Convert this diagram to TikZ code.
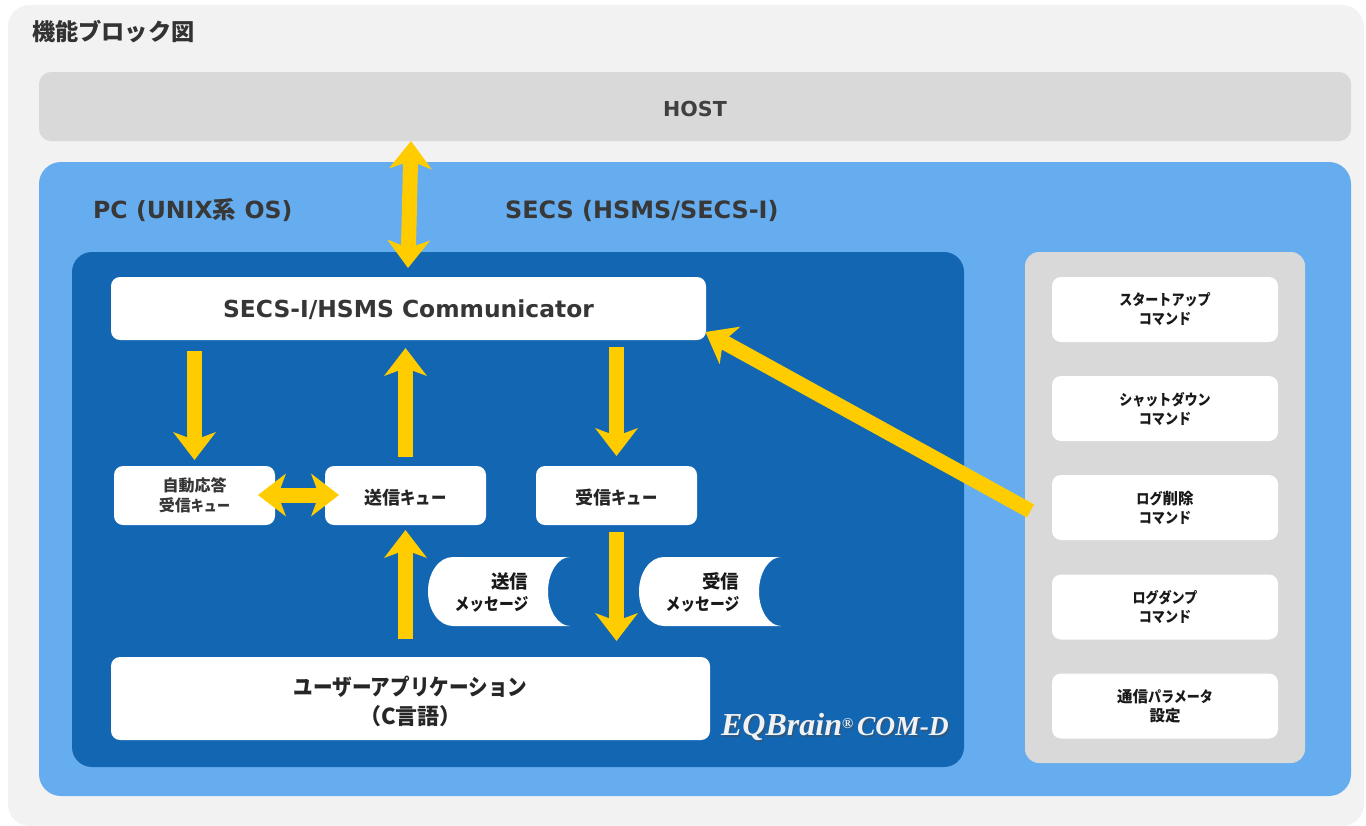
\documentclass[tikz,border=0pt]{standalone}
\usepackage{fontspec}
\setmainfont{DejaVu Sans}
\newfontfamily\cjk{Noto Sans CJK JP}
\newfontfamily\cjkn[FakeStretch=0.87]{Noto Sans CJK JP}
\newfontfamily\logofont{Liberation Serif}
\usetikzlibrary{arrows.meta,calc}
\definecolor{pagegrey}{HTML}{F2F2F2}
\definecolor{panelgrey}{HTML}{D9D9D9}
\definecolor{lightblue}{HTML}{66ADF0}
\definecolor{darkblue}{HTML}{1366B1}
\definecolor{arrowyellow}{HTML}{FFCC00}
\definecolor{inktext}{HTML}{404040}
\newcommand{\kj}[2]{{\cjk\bfseries\fontsize{#1}{0}\selectfont #2}}
\tikzset{
  whitebox/.style={fill=white,rounded corners=9pt,draw=none,inner sep=0pt,align=center,font=\cjk\bfseries,text=black!85},
  cmdbox/.style={whitebox,minimum width=226pt,minimum height=65pt,font=\cjkn\bfseries\fontsize{15}{19}\selectfont,text=black!90},
  queue/.style={whitebox,minimum width=161pt,minimum height=59pt,font=\cjkn\bfseries\fontsize{17.6}{19.5}\selectfont},
  ytip/.tip={Stealth[length=28pt,width=43pt,inset=8pt,line width=0pt,fill=arrowyellow]},
  flow/.style={draw=arrowyellow,line width=15pt,-ytip},
  flowboth/.style={draw=arrowyellow,line width=15pt,ytip-ytip},
  headtext/.style={inner sep=0pt,font=\bfseries\fontsize{23.9}{27}\selectfont,text=black!78},
  msgtext/.style={anchor=east,align=right,inner sep=0pt,font=\cjkn\bfseries\fontsize{17}{22}\selectfont,text=black!90}
}
\newcommand{\msgshape}[2]{%
  \fill[white] (#1+25,#2) -- (#1+142,#2) .. controls (#1+130,#2) and (#1+120,#2+15.5) .. (#1+120,#2+34.5)
   .. controls (#1+120,#2+53.5) and (#1+130,#2+69) .. (#1+142,#2+69) -- (#1+25,#2+69)
   .. controls (#1+11,#2+69) and (#1,#2+53.5) .. (#1,#2+34.5)
   .. controls (#1,#2+15.5) and (#1+11,#2) .. (#1+25,#2) -- cycle;}
\begin{document}
\begin{tikzpicture}[x=1pt,y=-1pt]
\useasboundingbox (0,0) rectangle (1366,825);
\fill[white] (0,0) rectangle (1366,825);
\fill[pagegrey,rounded corners=22pt] (8,5) rectangle (1364,826);
\node[anchor=west,inner sep=0pt,font=\cjk\bfseries\fontsize{23.2}{27}\selectfont,text=black!80] (title) at (32,31.5) {機能ブロック図};

\fill[panelgrey,rounded corners=12pt] (39,72) rectangle (1351,141);
\node[inner sep=0pt,font=\bfseries\fontsize{20.6}{25}\selectfont,text=inktext] (host) at (695,108.5) {HOST};

\fill[lightblue,rounded corners=22pt] (39,162) rectangle (1351,796);
\node[anchor=base west,headtext,font=\bfseries\fontsize{23.6}{27}\selectfont] (pc) at (93,218) {PC (UNIX{\cjk 系} OS)};
\node[anchor=base west,headtext] (secs) at (505,218) {SECS (HSMS/SECS-I)};

\fill[darkblue,rounded corners=20pt] (72,252) rectangle (964,767);
\fill[panelgrey,rounded corners=14pt] (1025,252) rectangle (1305,763);

\node[whitebox,minimum width=595pt,minimum height=63pt,font=\bfseries\fontsize{23.4}{27}\selectfont,text=inktext!85!black] (comm) at (408.5,308.5) {\rule{0pt}{21pt}SECS-I/HSMS Communicator};
\node[queue,font=\cjkn\bfseries\fontsize{15}{19.5}\selectfont,text=inktext!85!black] (autoq) at (194.5,495.5) {\kj{16}{自動応答}\\\kj{16}{受信}キュー};
\node[queue] (sendq) at (405.5,495.5) {\rule{0pt}{20pt}\kj{18}{送信}キュー};
\node[queue] (recvq) at (616.5,495.5) {\rule{0pt}{20pt}\kj{18}{受信}キュー};
\node[whitebox,minimum width=599pt,minimum height=83pt,font=\cjkn\bfseries\fontsize{22.5}{29}\selectfont] (app) at (410.5,698.5) {\rule{0pt}{25pt}ユーザーアプリケーション\\\kj{22}{（C言語）}};

\msgshape{428}{557}
\msgshape{639}{557}
\node[msgtext] (sendmsg) at (528.5,592) {\kj{18.5}{送信}\\メッセージ};
\node[msgtext] (recvmsg) at (739.5,592) {\kj{18.5}{受信}\\メッセージ};

\node[cmdbox] (c1) at (1165,309.5) {スタートアップ\\コマンド};
\node[cmdbox] (c2) at (1165,408.5) {シャットダウン\\コマンド};
\node[cmdbox] (c3) at (1165,507.5) {ログ\kj{15.5}{削除}\\コマンド};
\node[cmdbox] (c4) at (1165,607) {ログダンプ\\コマンド};
\node[cmdbox] (c5) at (1165,706) {\kj{15.5}{通信}パラメータ\\\kj{15.5}{設定}};

\node[anchor=east,inner sep=0pt,font=\logofont\bfseries\itshape\fontsize{27.5}{32}\selectfont,text=black!70,opacity=.5] (logoshadow) at (950.5,728.5) {{\fontsize{32}{32}\selectfont EQBrain}{\fontsize{15}{15}\selectfont\raisebox{.45em}{®}}\hspace{-3pt} COM-D};
\node[anchor=east,inner sep=0pt,font=\logofont\bfseries\itshape\fontsize{27.5}{32}\selectfont,text=pagegrey] (logo) at (949,727) {{\fontsize{32}{32}\selectfont EQBrain}{\fontsize{15}{15}\selectfont\raisebox{.45em}{®}}\hspace{-3pt} COM-D};

% connectors
\coordinate (hosttip) at (411,141);
\coordinate (commtip) at (408,268);
\draw[flowboth] (hosttip) -- (commtip);
\coordinate (a1s) at (194.5,351);
\coordinate (a1e) at (194.5,460);
\draw[flow] (a1s) -- (a1e);
\coordinate (a2s) at (405.5,457);
\coordinate (a2e) at (405.5,348);
\draw[flow] (a2s) -- (a2e);
\coordinate (a3s) at (616.5,347);
\coordinate (a3e) at (616.5,456);
\draw[flow] (a3s) -- (a3e);
\coordinate (b1) at (258,495);
\coordinate (b2) at (339,495);
\draw[flowboth] (b1) -- (b2);
\coordinate (a4s) at (405.5,639);
\coordinate (a4e) at (405.5,530);
\draw[flow] (a4s) -- (a4e);
\coordinate (a5s) at (616.5,532);
\coordinate (a5e) at (616.5,641);
\draw[flow] (a5s) -- (a5e);
\coordinate (a6s) at (1030.5,511);
\coordinate (a6e) at (705.5,332);
\draw[flow] (a6s) -- (a6e);
\end{tikzpicture}
\end{document}
